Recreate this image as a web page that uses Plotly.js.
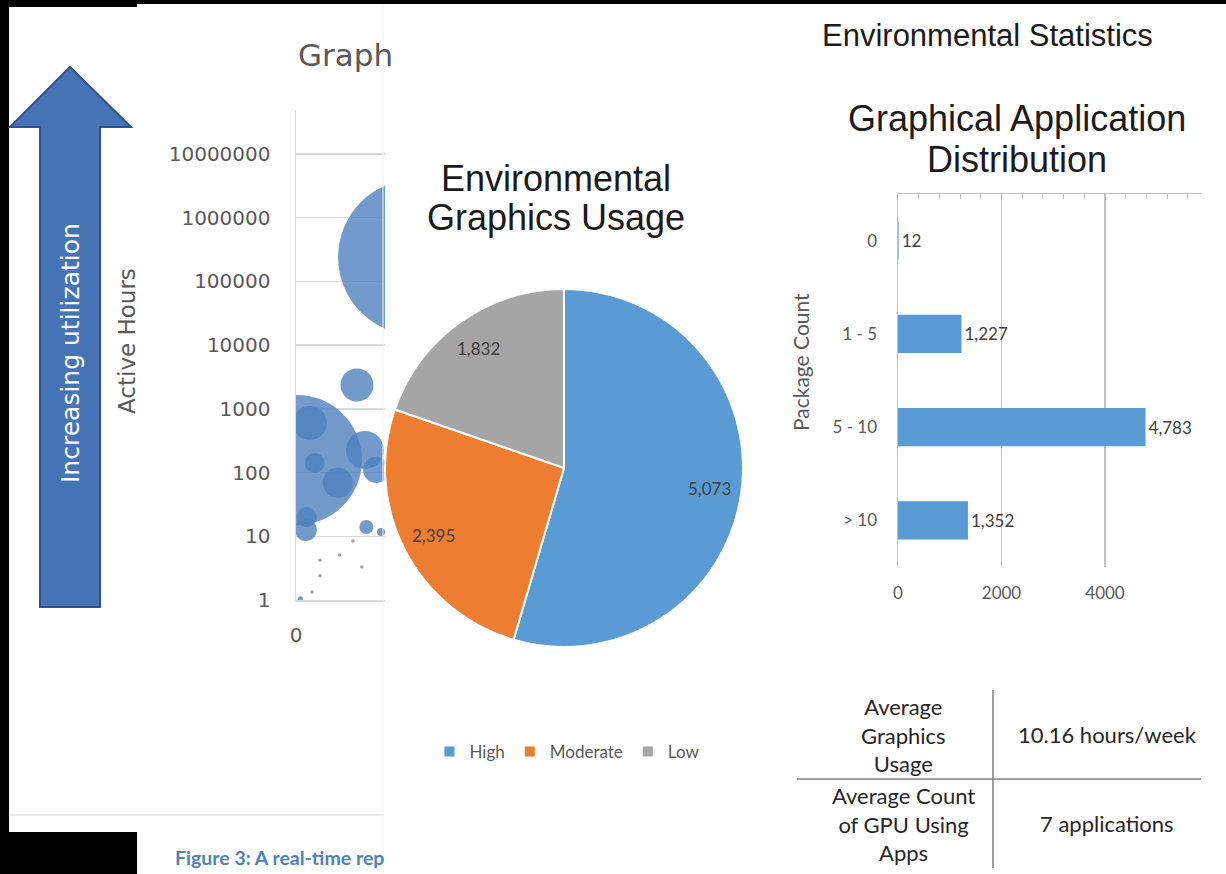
<!DOCTYPE html>
<html><head><meta charset="utf-8">
<script src="https://cdn.plot.ly/plotly-3.0.1.min.js"></script>
<style>html,body{margin:0;padding:0;background:#fff;} #chart{width:1226px;height:874px;}</style>
</head><body><div id="chart"></div>
<script>
// ---------- DATA ----------
// Left: partially visible bubble chart (Active Hours, log scale)
const bubbleX = [13.5, 6.85, 0.1, 1.57, 2.1, 4.7, 1.2, 1.1, 7.75, 9.0, 7.9, 9.55, 0.5];
const bubbleY = [240000, 2370, 158, 600, 141, 69, 20, 12.6, 226, 110, 14, 11.7, 1.05];
const bubbleWeight = [156, 33, 130, 34, 20, 30, 20, 22, 38, 26, 14, 8, 5];
const dotX = [2.7, 2.7, 1.8, 4.9, 7.4, 6.4];
const dotY = [4.2, 2.4, 1.33, 5.1, 3.3, 8.4];
const activeHourTicks = [1, 10, 100, 1000, 10000, 100000, 1000000, 10000000];

// Middle: Environmental Graphics Usage pie
const usageLabels = ['High', 'Moderate', 'Low'];
const usageValues = [5073, 2395, 1832];

// Right: Graphical Application Distribution bars
const pkgCategories = ['0', '1 - 5', '5 - 10', '> 10'];
const pkgValues = [12, 1227, 4783, 1352];
const pkgTicks = [0, 2000, 4000];

// Right: statistics table
const statLabels = ['Average<br>Graphics<br>Usage', 'Average Count<br>of GPU Using<br>Apps'];
const statValues = ['10.16 hours/week', '7 applications'];

// ---------- LAYOUT HELPERS ----------
const W = 1226, H = 874;
const px = x => x / W;
const py = y => 1 - y / H;
const PIE_CX = 564, PIE_CY = 468, PIE_R = 179;
const TABLE_TOP = 690, TABLE_ROW_H = 89, TABLE_COL_X = [903, 1107];

const grayTxt = '#595959';
const traces = [];

traces.push({
  type: 'scatter', mode: 'markers', x: bubbleX, y: bubbleY, xaxis: 'x', yaxis: 'y',
  marker: {size: bubbleWeight, sizemode: 'diameter', sizeref: 1, color: 'rgba(79,129,189,0.8)', opacity: 1, line: {width: 0}},
  cliponaxis: true, showlegend: false, hoverinfo: 'x+y'
});
traces.push({
  type: 'scatter', mode: 'markers', x: dotX, y: dotY, xaxis: 'x', yaxis: 'y',
  marker: {size: 3.5, color: 'rgba(130,140,160,0.8)', opacity: 1}, showlegend: false, hoverinfo: 'x+y'
});

traces.push({
  type: 'pie', labels: usageLabels, values: usageValues, sort: false,
  direction: 'clockwise', rotation: 0,
  marker: {colors: ['#5B9BD5', '#ED7D31', '#A5A5A5'], line: {color: '#ffffff', width: 2}},
  textinfo: 'none', hoverinfo: 'label+value',
  domain: {x: [px(PIE_CX - PIE_R), px(PIE_CX + PIE_R)], y: [py(PIE_CY + PIE_R), py(PIE_CY - PIE_R)]},
  showlegend: true
});

traces.push({
  type: 'bar', orientation: 'h', x: pkgValues, y: pkgCategories, xaxis: 'x2', yaxis: 'y2',
  marker: {color: '#5B9BD5'}, texttemplate: '%{x:,}', textposition: 'outside', cliponaxis: false,
  textfont: {family: 'Lato', size: 17, color: '#404040'}, showlegend: false, hoverinfo: 'x+y'
});
traces.push({type: 'scatter', x: [], y: [], xaxis: 'x3', yaxis: 'y2', showlegend: false, hoverinfo: 'skip'});

// pie value labels placed along each slice's mid angle
const total = usageValues.reduce((a, b) => a + b, 0);
let cum = 0;
const pieLabelAnns = usageValues.map(v => {
  const mid = (cum + v / 2) / total * 2 * Math.PI; cum += v;
  const r = 0.82 * PIE_R;
  return {
    xref: 'paper', yref: 'paper', x: px(PIE_CX + r * Math.sin(mid)), y: py(PIE_CY - r * Math.cos(mid)),
    text: v.toLocaleString('en-US'), showarrow: false, xanchor: 'center', yanchor: 'middle',
    font: {family: 'Lato', size: 17, color: '#404040'}
  };
});

const ann = (x, y, text, font, extra) => Object.assign({xref: 'paper', yref: 'paper', x: px(x), y: py(y), text, showarrow: false, xanchor: 'center', yanchor: 'middle', font}, extra || {});

// table cells as text blocks, one per row/column
const tableFont = {family: 'Lato', size: 22, color: '#262626'};
const tableAnns = [];
statLabels.forEach((lab, i) => {
  const yc = TABLE_TOP + TABLE_ROW_H * (i + 0.5);
  tableAnns.push(ann(TABLE_COL_X[0], yc, lab, tableFont, {align: 'center'}));
  tableAnns.push(ann(TABLE_COL_X[1], yc, statValues[i], tableFont, {align: 'center'}));
});

const annotations = [
  ann(296, 55, 'Graph', {family: 'DejaVu Sans', size: 31, color: grayTxt}, {xanchor: 'left'}),
  ann(127, 341, 'Active Hours', {family: 'DejaVu Sans', size: 23, color: grayTxt}, {textangle: -90}),
  ann(70, 353, 'Increasing utilization', {family: 'DejaVu Sans', size: 25, color: '#ffffff'}, {textangle: -90}),
  ann(173, 857, 'Figure 3: A real-time rep', {family: 'Lato', size: 19.5, color: '#4F81BD', weight: 'bold'}, {xanchor: 'left'}),
  ann(556, 178, 'Environmental', {family: 'Liberation Sans', size: 36, color: '#1a1a1a'}),
  ann(556, 218, 'Graphics Usage', {family: 'Liberation Sans', size: 36, color: '#1a1a1a'}),
  ann(988, 35, 'Environmental Statistics', {family: 'Liberation Sans', size: 31, color: '#1a1a1a'}),
  ann(1017, 118, 'Graphical Application', {family: 'Liberation Sans', size: 36, color: '#1a1a1a'}),
  ann(1017, 160, 'Distribution', {family: 'Liberation Sans', size: 36, color: '#1a1a1a'}),
  ann(800, 362, 'Package Count', {family: 'Lato', size: 21, color: grayTxt}, {textangle: -90})
].concat(pieLabelAnns, tableAnns);

const rect = (x0, y0, x1, y1, color) => ({type: 'rect', xref: 'paper', yref: 'paper', x0: px(x0), x1: px(x1), y0: py(y1), y1: py(y0), fillcolor: color, line: {width: 0}, layer: 'below'});
const hline = (x0, x1, y, color, w) => ({type: 'line', xref: 'paper', yref: 'paper', x0: px(x0), x1: px(x1), y0: py(y), y1: py(y), line: {color, width: w}});
const vline = (x, y0, y1, color, w) => ({type: 'line', xref: 'paper', yref: 'paper', x0: px(x), x1: px(x), y0: py(y0), y1: py(y1), line: {color, width: w}});

const arrowPath = 'M' + [[70, 67], [131, 127], [100, 127], [100, 607], [40, 607], [40, 127], [10, 127]].map(p => px(p[0]) + ',' + py(p[1])).join(' L') + ' Z';

const shapes = [
  rect(0, 0, W, 4, '#000'),
  rect(0, 0, 137, 7, '#000'),
  rect(0, 0, 9, 832, '#000'),
  rect(0, 832, 137, H, '#000'),
  {type: 'path', xref: 'paper', yref: 'paper', path: arrowPath, fillcolor: '#4673B5', line: {color: '#2F528F', width: 2}, layer: 'below'},
  hline(10, 384, 815, '#E3E3E3', 1.5),
  vline(383, 4, H, '#F0F0F0', 1),
  vline(993, TABLE_TOP, TABLE_TOP + 2 * TABLE_ROW_H, '#7F7F7F', 1.5),
  hline(797, 1201, TABLE_TOP + TABLE_ROW_H, '#7F7F7F', 1.5)
];

const tickFontL = {family: 'DejaVu Sans', size: 20, color: grayTxt};
const tickFontR = {family: 'Lato', size: 17, color: grayTxt};

const layout = {
  width: W, height: H, margin: {l: 0, r: 0, t: 0, b: 0},
  paper_bgcolor: '#ffffff', plot_bgcolor: 'rgba(0,0,0,0)',
  font: {family: 'Lato', color: grayTxt}, hovermode: false, bargap: 0.59,
  xaxis: {domain: [px(296), px(385)], range: [0, 10], anchor: 'y', tickvals: [0], ticktext: ['0'],
    showgrid: false, zeroline: false, showline: true, linecolor: '#D9D9D9', linewidth: 1.5,
    ticks: 'outside', ticklen: 16, tickcolor: 'rgba(0,0,0,0)', tickfont: tickFontL, fixedrange: true},
  yaxis: {domain: [py(600), py(110)], type: 'log', range: [0, 7.69], anchor: 'x', tickvals: activeHourTicks, tickformat: 'd',
    showgrid: true, gridcolor: '#D9D9D9', gridwidth: 1.5, zeroline: false, showline: true, linecolor: '#D9D9D9', linewidth: 1.5,
    ticks: 'outside', ticklen: 20, tickcolor: 'rgba(0,0,0,0)', tickfont: tickFontL, fixedrange: true},
  xaxis2: {domain: [px(898), px(1201)], range: [0, 5855], anchor: 'y2', tickvals: pkgTicks,
    showgrid: true, gridcolor: '#BFBFBF', gridwidth: 1.5, zeroline: false, showline: false,
    ticks: 'outside', ticklen: 11, tickcolor: 'rgba(0,0,0,0)', tickfont: tickFontR, fixedrange: true},
  xaxis3: {overlaying: 'x2', side: 'top', anchor: 'y2', range: [0, 5855], dtick: 400, tick0: 0,
    showticklabels: false, showgrid: false, zeroline: false, showline: true, linecolor: '#BFBFBF', linewidth: 1.5,
    ticks: 'inside', ticklen: 5, tickcolor: '#BFBFBF', tickwidth: 1, fixedrange: true},
  yaxis2: {domain: [py(567), py(194)], type: 'category', categoryorder: 'array', categoryarray: pkgCategories,
    autorange: 'reversed', anchor: 'x2', showgrid: false, zeroline: false, showline: true, linecolor: '#BFBFBF', linewidth: 1.5,
    ticks: 'outside', ticklen: 16, tickcolor: 'rgba(0,0,0,0)', tickfont: tickFontR, fixedrange: true},
  showlegend: true,
  legend: {orientation: 'h', x: px(567), xanchor: 'center', y: py(752), yanchor: 'middle',
    font: {family: 'Lato', size: 17, color: grayTxt}, bgcolor: 'rgba(0,0,0,0)', itemwidth: 30, traceorder: 'normal'},
  annotations, shapes
};

Plotly.newPlot('chart', traces, layout, {displayModeBar: false, staticPlot: true});
</script>
</body></html>
